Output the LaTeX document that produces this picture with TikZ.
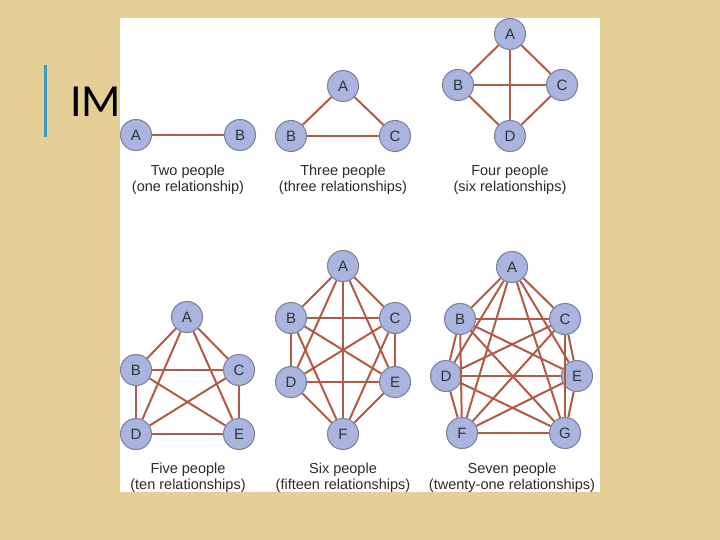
\documentclass[tikz,border=0pt]{standalone}
\usepackage{fontspec}
\setmainfont{Liberation Sans}
\newfontfamily\titlefont{Carlito}
\usepackage{xcolor}
\usetikzlibrary{positioning}
\definecolor{paperbg}{HTML}{E6CF96}
\definecolor{barblue}{HTML}{3A9EC2}
\definecolor{linkred}{HTML}{B35A44}
\definecolor{personblue}{HTML}{A9B5DE}
\definecolor{personrim}{HTML}{7E84A0}
\definecolor{captiongray}{HTML}{2B2B2B}

\begin{document}
\begin{tikzpicture}[
    x=1pt, y=-1pt,
    person/.style={
        circle, draw=personrim, line width=1.1pt, fill=personblue,
        minimum size=31pt, inner sep=0pt,
        font=\fontsize{15}{15}\selectfont, text=black!80,
    },
    link/.style={
        draw=linkred, line width=2pt
    },
    caption/.style={
        align=center, text=captiongray,
        font=\fontsize{14.5}{16}\selectfont,
    },
]
\useasboundingbox (0,0) rectangle (720,540);
\fill[paperbg] (0,0) rectangle (720,540);

% slide title, mostly hidden by the picture
\draw[barblue, line width=3pt] (45,65) -- (45,137);
\node[anchor=base west, inner sep=0pt, font=\titlefont\fontsize{46}{50}\selectfont] (title) at (70,117) {IM};
\node[fill=white, anchor=north west, inner sep=0pt, minimum width=480pt, minimum height=474pt] (panel) at (120,18) {};

% two people
\node[person] (twoA) at (136,135) {A};
\node[person] (twoB) at (240,135) {B};
\node[caption] (twoCap) at (188,180) {Two people\\(one relationship)};
\draw[link] (twoA) -- (twoB);

% three people
\node[person] (threeA) at (343,86) {A};
\node[person] (threeB) at (291,136) {B};
\node[person] (threeC) at (395,136) {C};
\node[caption] (threeCap) at (343,180) {Three people\\(three relationships)};
\foreach \u/\v in {A/B, A/C, B/C}
    \draw[link] (three\u) -- (three\v);

% four people
\node[person] (fourA) at (510,34) {A};
\node[person] (fourB) at (458,85) {B};
\node[person] (fourC) at (562,85) {C};
\node[person] (fourD) at (510,136) {D};
\node[caption] (fourCap) at (510,180) {Four people\\(six relationships)};
\foreach \u/\v in {A/B, A/C, A/D, B/C, B/D, C/D}
    \draw[link] (four\u) -- (four\v);

% five people
\node[person] (fiveA) at (187,317) {A};
\node[person] (fiveB) at (136,370) {B};
\node[person] (fiveC) at (239,370) {C};
\node[person] (fiveD) at (136,434) {D};
\node[person] (fiveE) at (239,434) {E};
\node[caption] (fiveCap) at (188,477.5) {Five people\\(ten relationships)};
\foreach \u/\v in {A/B, A/C, A/D, A/E, B/C, B/D, B/E, C/D, C/E, D/E}
    \draw[link] (five\u) -- (five\v);

% six people
\node[person] (sixA) at (343,266) {A};
\node[person] (sixB) at (291,318) {B};
\node[person] (sixC) at (395,318) {C};
\node[person] (sixD) at (291,382) {D};
\node[person] (sixE) at (395,382) {E};
\node[person] (sixF) at (343,434) {F};
\node[caption] (sixCap) at (343,477.5) {Six people\\(fifteen relationships)};
\foreach \u/\v in {A/B, A/C, A/D, A/E, A/F, B/C, B/D, B/E, B/F,
                   C/D, C/E, C/F, D/E, D/F, E/F}
    \draw[link] (six\u) -- (six\v);

% seven people
\node[person] (sevenA) at (512,267) {A};
\node[person] (sevenB) at (460,319) {B};
\node[person] (sevenC) at (565,319) {C};
\node[person] (sevenD) at (446,376) {D};
\node[person] (sevenE) at (577,376) {E};
\node[person] (sevenF) at (462,433) {F};
\node[person] (sevenG) at (565,433) {G};
\node[caption] (sevenCap) at (512,477.5) {Seven people\\(twenty-one relationships)};
\foreach \u/\v in {A/B, A/C, A/D, A/E, A/F, A/G, B/C, B/D, B/E, B/F, B/G,
                   C/D, C/E, C/F, C/G, D/E, D/F, D/G, E/F, E/G, F/G}
    \draw[link] (seven\u) -- (seven\v);
\end{tikzpicture}
\end{document}
